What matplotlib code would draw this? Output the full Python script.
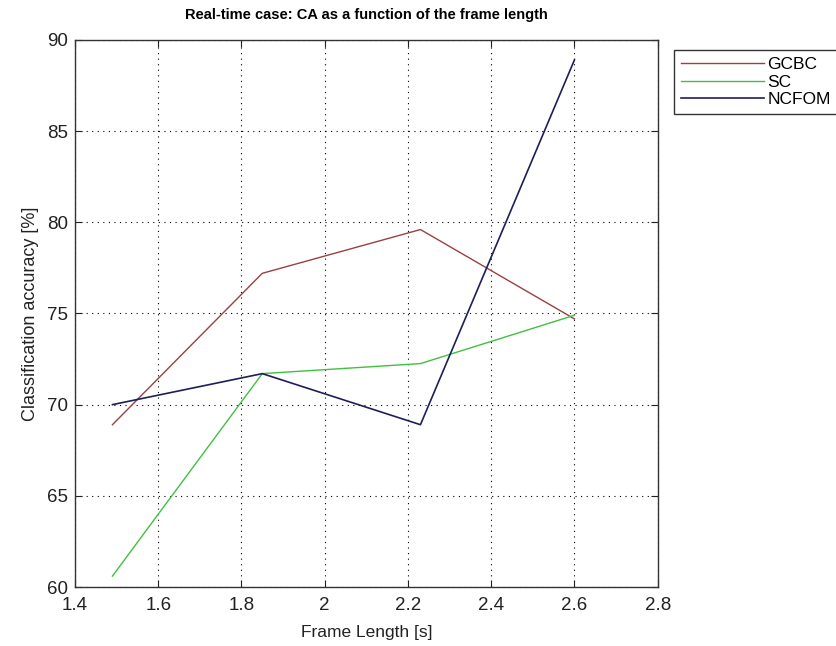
import numpy as np
import matplotlib.pyplot as plt

plt.rcParams['font.family'] = ['Liberation Sans', 'DejaVu Sans']

# frame lengths [s] and classification accuracy [%] per method
frame_len = [1.49, 1.85, 2.23, 2.6]
gcbc = [68.9, 77.2, 79.6, 74.7]
sc = [60.6, 71.7, 72.25, 74.9]
ncfom = [70.0, 71.7, 68.9, 88.9]

x_ticks = [1.4, 1.6, 1.8, 2.0, 2.2, 2.4, 2.6, 2.8]
x_ticklabels = ['1.4', '1.6', '1.8', '2', '2.2', '2.4', '2.6', '2.8']
y_ticks = [60, 65, 70, 75, 80, 85, 90]

fig = plt.figure(figsize=(8.36, 6.46), dpi=100)
ax = fig.add_axes([0.0897, 0.0913, 0.697, 0.847])

ax.plot(frame_len, gcbc, color='#9a4040', lw=1.0, label='GCBC')
ax.plot(frame_len, sc, color='#40c040', lw=1.0, label='SC')
ax.plot(frame_len, ncfom, color='#1e1e5a', lw=1.2, label='NCFOM')

ax.set_xlim(1.4, 2.8)
ax.set_ylim(60, 90)
ax.set_xticks(x_ticks)
ax.set_xticklabels(x_ticklabels)
ax.set_yticks(y_ticks)
ax.tick_params(direction='in', length=5, labelsize=13.5, colors='#222222',
               top=True, right=True)
ax.tick_params(axis='x', pad=7)
ax.tick_params(axis='y', pad=5)
ax.grid(True, color='black', linestyle=(0, (1, 4)), linewidth=0.8)
for s in ax.spines.values():
    s.set_color('#333333')
    s.set_linewidth(1.0)

ax.set_title('Real-time case: CA as a function of the frame length',
             fontsize=10.5, fontweight='bold', pad=15)
ax.set_xlabel('Frame Length [s]', fontsize=12.5, labelpad=8, color='#222222')
ax.set_ylabel('Classification accuracy [%]', fontsize=13, labelpad=6, color='#222222')

leg = ax.legend(loc='upper left', bbox_to_anchor=(0.806, 0.923),
                bbox_transform=fig.transFigure, fancybox=False, framealpha=1,
                edgecolor='#333333', fontsize=12.5, handlelength=4.8,
                handletextpad=0.2, borderaxespad=0, labelspacing=0.15,
                borderpad=0.4)
leg.get_frame().set_linewidth(1.0)

fig.savefig('out.png', dpi=100)
